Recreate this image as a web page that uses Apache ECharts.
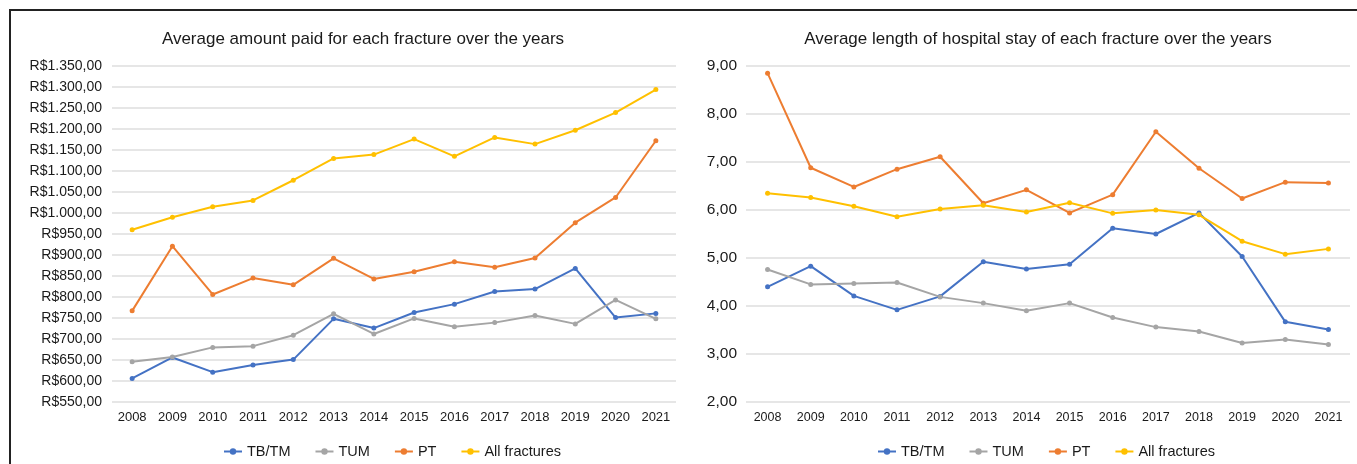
<!DOCTYPE html>
<html>
<head>
<meta charset="utf-8">
<title>Fractures: average amount paid and length of stay</title>
<script src="https://cdn.jsdelivr.net/npm/echarts@6/dist/echarts.min.js"></script>
<style>
  html, body { margin: 0; padding: 0; background: #ffffff; }
  #chart { width: 1357px; height: 464px; }
</style>
</head>
<body>
<div id="chart"></div>
<script>
// Years on the category axis (shared by both panels)
const years = ['2008','2009','2010','2011','2012','2013','2014','2015','2016','2017','2018','2019','2020','2021'];

// Series names
const seriesNames = ['TB/TM', 'TUM', 'PT', 'All fractures'];

// Average amount paid (R$) per fracture type
const paidTBTM = [606, 656, 621, 638, 651, 748, 726, 763, 783, 813, 819, 868, 751, 761];
const paidTUM  = [646, 657, 680, 683, 709, 760, 712, 749, 729, 739, 756, 736, 793, 748];
const paidPT   = [767, 921, 806, 845, 829, 892, 843, 860, 884, 871, 893, 977, 1037, 1172];
const paidAll  = [960, 990, 1015, 1030, 1078, 1130, 1139, 1176, 1135, 1180, 1164, 1197, 1239, 1294];

// Average length of hospital stay (days) per fracture type
const stayTBTM = [4.40, 4.83, 4.21, 3.92, 4.20, 4.92, 4.77, 4.87, 5.62, 5.50, 5.94, 5.03, 3.67, 3.51];
const stayTUM  = [4.76, 4.45, 4.47, 4.49, 4.19, 4.06, 3.90, 4.06, 3.76, 3.56, 3.47, 3.23, 3.30, 3.20];
const stayPT   = [8.85, 6.88, 6.48, 6.85, 7.11, 6.14, 6.42, 5.94, 6.32, 7.63, 6.87, 6.24, 6.58, 6.56];
const stayAll  = [6.35, 6.26, 6.08, 5.86, 6.02, 6.10, 5.96, 6.15, 5.93, 6.00, 5.90, 5.35, 5.08, 5.19];

// Panel titles
const titlePaid = 'Average amount paid for each fracture over the years';
const titleStay = 'Average length of hospital stay of each fracture over the years';

const colors = ['#4472C4', '#A5A5A5', '#ED7D31', '#FFC000'];
const FONT = '"Liberation Sans", Arial, Helvetica, sans-serif';

function formatReais(v) {
  const n = Math.round(v);
  let s;
  if (n >= 1000) {
    s = Math.floor(n / 1000) + '.' + String(n % 1000).padStart(3, '0');
  } else {
    s = String(n);
  }
  return 'R$' + s + ',00';
}

function formatDays(v) {
  return v.toFixed(2).replace('.', ',');
}

function lineSeries(name, data, idx, color) {
  return {
    name: name,
    type: 'line',
    xAxisIndex: idx,
    yAxisIndex: idx,
    data: data,
    symbol: 'circle',
    symbolSize: 5,
    showSymbol: true,
    color: color,
    lineStyle: { width: 2, color: color },
    itemStyle: { color: color },
    emphasis: { disabled: true },
    animation: false
  };
}

const gridLine = { show: true, lineStyle: { color: '#dedede', width: 1.5 } };

const legendText = { fontFamily: FONT, fontSize: 14.5, color: '#1a1a1a' };

const chart = echarts.init(document.getElementById('chart'), null, { renderer: 'canvas' });

chart.setOption({
  backgroundColor: '#ffffff',
  animation: false,
  textStyle: { fontFamily: FONT },
  title: [
    {
      text: titlePaid,
      left: 358,
      top: 26,
      textAlign: 'center',
      textStyle: { fontFamily: FONT, fontSize: 17, fontWeight: 'normal', color: '#1a1a1a' }
    },
    {
      text: titleStay,
      left: 1033,
      top: 26,
      textAlign: 'center',
      textStyle: { fontFamily: FONT, fontSize: 17, fontWeight: 'normal', color: '#1a1a1a' }
    }
  ],
  legend: [
    {
      data: seriesNames,
      left: 218,
      top: 439,
      itemWidth: 18,
      itemHeight: 8,
      itemGap: 24,
      selectedMode: false,
      textStyle: legendText
    },
    {
      data: seriesNames,
      left: 872,
      top: 439,
      itemWidth: 18,
      itemHeight: 8,
      itemGap: 24,
      selectedMode: false,
      textStyle: legendText
    }
  ],
  grid: [
    { left: 112, right: 681, top: 66, bottom: 62, containLabel: false },
    { left: 746, right: 7, top: 66, bottom: 62, containLabel: false }
  ],
  xAxis: [
    {
      type: 'category', gridIndex: 0, data: years, boundaryGap: true,
      axisLine: { show: false }, axisTick: { show: false },
      axisLabel: { margin: 9, fontFamily: FONT, fontSize: 13, color: '#1a1a1a' }
    },
    {
      type: 'category', gridIndex: 1, data: years, boundaryGap: true,
      axisLine: { show: false }, axisTick: { show: false },
      axisLabel: { margin: 9, fontFamily: FONT, fontSize: 12.5, color: '#1a1a1a' }
    }
  ],
  yAxis: [
    {
      type: 'value', gridIndex: 0, min: 550, max: 1350, interval: 50,
      axisLine: { show: false }, axisTick: { show: false },
      splitLine: gridLine,
      axisLabel: { margin: 10, formatter: formatReais, fontFamily: FONT, fontSize: 14, color: '#1a1a1a' }
    },
    {
      type: 'value', gridIndex: 1, min: 2, max: 9, interval: 1,
      axisLine: { show: false }, axisTick: { show: false },
      splitLine: gridLine,
      axisLabel: { margin: 9, formatter: formatDays, fontFamily: FONT, fontSize: 15.5, color: '#1a1a1a' }
    }
  ],
  series: [
    lineSeries(seriesNames[0], paidTBTM, 0, colors[0]),
    lineSeries(seriesNames[1], paidTUM, 0, colors[1]),
    lineSeries(seriesNames[2], paidPT, 0, colors[2]),
    lineSeries(seriesNames[3], paidAll, 0, colors[3]),
    lineSeries(seriesNames[0], stayTBTM, 1, colors[0]),
    lineSeries(seriesNames[1], stayTUM, 1, colors[1]),
    lineSeries(seriesNames[2], stayPT, 1, colors[2]),
    lineSeries(seriesNames[3], stayAll, 1, colors[3])
  ],
  graphic: [
    {
      // frame along the top and left edges
      type: 'polyline',
      silent: true,
      shape: { points: [[10, 464], [10, 10], [1357, 10]] },
      style: { stroke: '#222222', lineWidth: 2, fill: null }
    }
  ]
});
</script>
</body>
</html>
